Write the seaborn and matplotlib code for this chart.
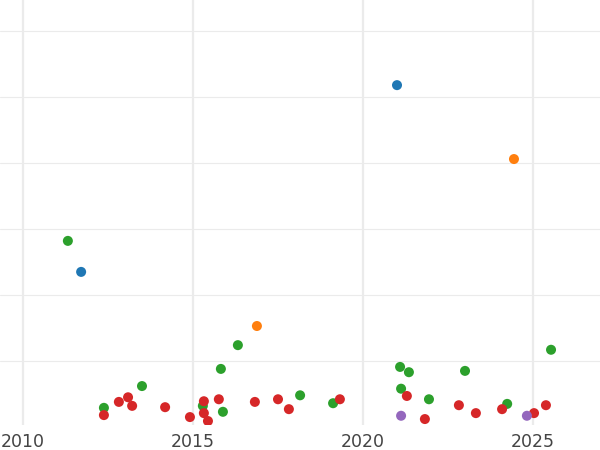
import matplotlib
matplotlib.use("Agg")
import matplotlib.pyplot as plt
import seaborn as sns
import pandas as pd

# Data (x = year, y = value)
blue_x = [2021.0, 2011.71]
blue_y = [51.8, 23.5]
orange_x = [2024.44, 2016.88]
orange_y = [40.6, 15.3]
green_x = [2011.32, 2012.38, 2013.50, 2015.29, 2015.88, 2015.82, 2016.32, 2018.15,
           2019.12, 2021.09, 2021.35, 2021.12, 2021.94, 2023.0, 2024.24, 2025.53]
green_y = [28.2, 2.9, 6.2, 3.2, 2.3, 8.8, 12.4, 4.8,
           3.6, 9.1, 8.3, 5.8, 4.2, 8.5, 3.5, 11.7]
red_x = [2012.38, 2012.82, 2013.09, 2013.21, 2014.18, 2014.91, 2015.32, 2015.32,
         2015.44, 2015.76, 2016.82, 2017.50, 2017.82, 2019.32, 2021.29, 2021.82,
         2022.82, 2023.32, 2024.09, 2025.03, 2025.38]
red_y = [1.8, 3.8, 4.5, 3.2, 3.0, 1.5, 3.9, 2.1,
         0.9, 4.2, 3.8, 4.2, 2.7, 4.2, 4.7, 1.2,
         3.3, 2.1, 2.7, 2.1, 3.3]
purple_x = [2021.12, 2024.82]
purple_y = [1.7, 1.7]

groups = ["A", "B", "C", "D", "E"]
xs = [blue_x, orange_x, green_x, red_x, purple_x]
ys = [blue_y, orange_y, green_y, red_y, purple_y]

rows = []
for g, gx, gy in zip(groups, xs, ys):
    for a, b in zip(gx, gy):
        rows.append({"year": a, "value": b, "group": g})
df = pd.DataFrame(rows)

sns.set_style("white")
fig = plt.figure(figsize=(6, 4.5), dpi=100)
ax = fig.add_axes([0, 25 / 450, 1, 425 / 450])

palette = dict(zip(groups, sns.color_palette("tab10", 5)))
sns.scatterplot(data=df, x="year", y="value", hue="group", hue_order=groups,
                palette=palette, s=52, linewidth=0, legend=False, ax=ax, zorder=3)

ax.set_xlim(2009.324, 2026.97)
ax.set_ylim(0.3, 64.7)
ax.set_xticks([2010, 2015, 2020, 2025])
ax.set_yticks([10, 20, 30, 40, 50, 60])
ax.set_yticklabels([])
ax.grid(axis="x", color="#ebebeb", linewidth=1.6, zorder=0)
ax.grid(axis="y", color="#ebebeb", linewidth=0.8, zorder=0)
ax.set_axisbelow(True)
for sp in ax.spines.values():
    sp.set_visible(False)
ax.tick_params(axis="x", length=0, pad=6, labelsize=12.5, labelcolor="#444444")
ax.tick_params(axis="y", length=0)
ax.set_xlabel("")
ax.set_ylabel("")

fig.savefig("out.png", dpi=100)
